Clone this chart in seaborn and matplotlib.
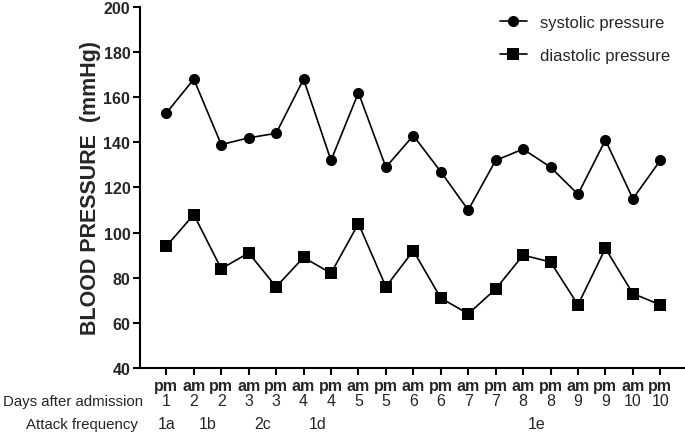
import matplotlib
matplotlib.use("Agg")
import matplotlib.pyplot as plt
import matplotlib.transforms as mtransforms
import seaborn as sns
import pandas as pd

# ---- data ----
time_of_day = ["pm", "am", "pm", "am", "pm", "am", "pm", "am", "pm", "am",
               "pm", "am", "pm", "am", "pm", "am", "pm", "am", "pm"]
days = ["1", "2", "2", "3", "3", "4", "4", "5", "5", "6",
        "6", "7", "7", "8", "8", "9", "9", "10", "10"]
systolic = [153, 168, 139, 142, 144, 168, 132, 162, 129, 143,
            127, 110, 132, 137, 129, 117, 141, 115, 132]
diastolic = [94, 108, 84, 91, 76, 89, 82, 104, 76, 92,
             71, 64, 75, 90, 87, 68, 93, 73, 68]
attack_labels = ["1a", "1b", "2c", "1d", "1e"]
attack_at = [0, 1.5, 3.5, 5.5, 13.5]
y_ticks = [40, 60, 80, 100, 120, 140, 160, 180, 200]

sns.set_theme(style="ticks")
plt.rcParams["font.family"] = ["Liberation Sans", "DejaVu Sans"]

df = pd.DataFrame({"idx": list(range(len(systolic))),
                   "systolic": systolic, "diastolic": diastolic})

fig = plt.figure(figsize=(6.85, 4.35), dpi=100)
ax = fig.add_axes([0.2044, 0.1517, 0.7956, 0.83])

sns.lineplot(data=df, x="idx", y="systolic", ax=ax, color="black",
             marker="o", markersize=8, linewidth=1.2, markeredgewidth=0,
             label="systolic pressure")
sns.lineplot(data=df, x="idx", y="diastolic", ax=ax, color="black",
             marker="s", markersize=8, linewidth=1.2, markeredgewidth=0,
             label="diastolic pressure")

ax.set_xlim(-0.96, 18.9)
ax.set_ylim(40, 200)
ax.set_yticks(y_ticks)
ax.set_yticklabels([str(t) for t in y_ticks], fontsize=11.5, fontweight="bold")
ax.set_xticks(df["idx"])
ax.set_xticklabels(time_of_day, fontsize=11.5, fontweight="bold")
ax.tick_params(axis="both", direction="out", length=5, width=1.5, color="black", pad=2)
ax.tick_params(axis="x", pad=2)
for s in ["top", "right"]:
    ax.spines[s].set_visible(False)
for s in ["left", "bottom"]:
    ax.spines[s].set_linewidth(1.5)
    ax.spines[s].set_color("black")

ax.set_xlabel("")
ax.set_ylabel("BLOOD PRESSURE  (mmHg)", fontsize=15.5, fontweight="bold", labelpad=2)

trans = mtransforms.blended_transform_factory(ax.transData, fig.transFigure)
for i, d in enumerate(days):
    ax.text(i, 1 - 402 / 435, d, transform=trans, ha="center", va="center", fontsize=11.5)
for lab, pos in zip(attack_labels, attack_at):
    ax.text(pos, 1 - 425 / 435, lab, transform=trans, ha="center", va="center", fontsize=11.5)
fig.text(143 / 685, 1 - 402 / 435, "Days after admission", ha="right", va="center", fontsize=10.8)
fig.text(138 / 685, 1 - 425 / 435, "Attack frequency", ha="right", va="center", fontsize=10.8)

leg = ax.legend(loc="upper right", bbox_to_anchor=(1.0, 1.02), frameon=False,
                fontsize=12, handlelength=1.6, labelspacing=1.1, handletextpad=0.8)

fig.savefig("out.png", dpi=100)
